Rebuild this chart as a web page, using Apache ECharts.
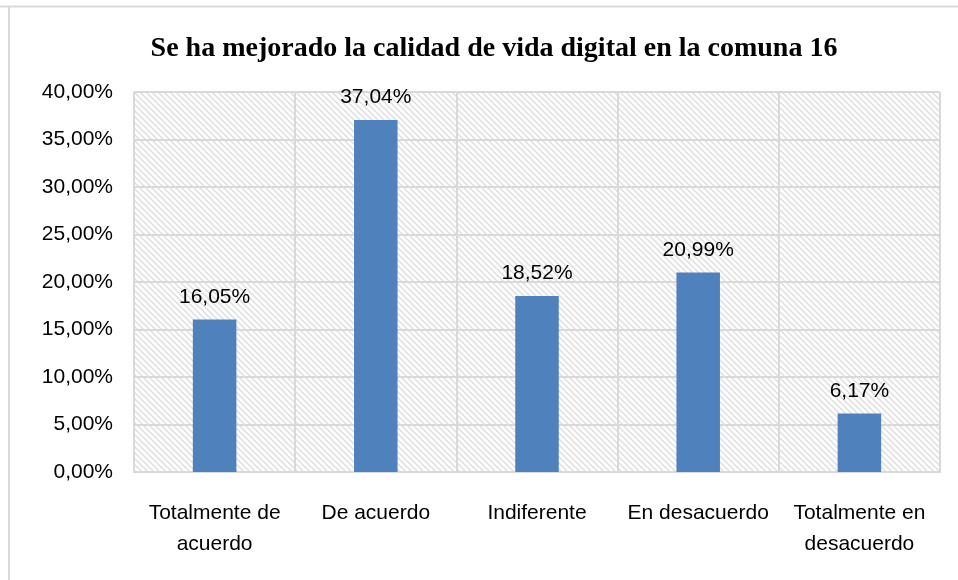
<!DOCTYPE html>
<html>
<head>
<meta charset="utf-8">
<script src="https://cdn.jsdelivr.net/npm/echarts@6/dist/echarts.min.js"></script>
<style>
    html, body { margin: 0; padding: 0; background: #fff; }
    #chart { width: 958px; height: 580px; }
</style>
</head>
<body>
<div id="chart"></div>
<script>
// datos del gráfico
const categories = ['Totalmente de\nacuerdo', 'De acuerdo', 'Indiferente', 'En desacuerdo', 'Totalmente en\ndesacuerdo'];
const values = [16.05, 37.04, 18.52, 20.99, 6.17];
const titleText = 'Se ha mejorado la calidad de vida digital en la comuna 16';

// patrón de rayas diagonales para el fondo del área
const makeHatch = () => {
    const c = document.createElement('canvas');
    c.width = 6;
    c.height = 6;
    const ctx = c.getContext('2d');
    ctx.fillStyle = '#ffffff';
    ctx.fillRect(0, 0, 6, 6);
    ctx.strokeStyle = '#dedede';
    ctx.lineWidth = 1.5;
    ctx.beginPath();
    ctx.moveTo(0, 0); ctx.lineTo(6, 6);
    ctx.moveTo(-3, 3); ctx.lineTo(3, 9);
    ctx.moveTo(3, -3); ctx.lineTo(9, 3);
    ctx.stroke();
    return c;
};

const fmt = (v) => v.toFixed(2).replace('.', ',') + '%';

const mychart = echarts.init(document.getElementById('chart'));
mychart.setOption({
    animation: false,
    title: {
        text: titleText,
        left: 489,
        textAlign: 'center',
        top: 30,
        textStyle: {
            fontFamily: 'Liberation Serif',
            fontWeight: 'bold',
            fontSize: 28,
            color: '#000'
        }
    },
    graphic: [
        { type: 'line', shape: { x1: 0, y1: 6.5, x2: 958, y2: 6.5 }, style: { stroke: '#d9d9d9', lineWidth: 2 } },
        { type: 'line', shape: { x1: 9, y1: 6, x2: 9, y2: 580 }, style: { stroke: '#d9d9d9', lineWidth: 2 } }
    ],
    grid: {
        left: 134,
        right: 18,
        top: 92,
        bottom: 108,
        show: true,
        borderWidth: 0,
        backgroundColor: { image: makeHatch(), repeat: 'repeat' }
    },
    xAxis: {
        type: 'category',
        data: categories,
        axisTick: { show: false },
        axisLine: { lineStyle: { color: '#d9d9d9', width: 2 } },
        splitLine: { show: true, lineStyle: { color: '#d9d9d9', width: 2 } },
        axisLabel: {
            color: '#000',
            fontFamily: 'Liberation Sans',
            fontSize: 21,
            lineHeight: 31,
            margin: 26,
            interval: 0
        }
    },
    yAxis: {
        type: 'value',
        min: 0,
        max: 40,
        interval: 5,
        axisLine: { show: true, lineStyle: { color: '#d9d9d9', width: 2 } },
        axisTick: { show: false },
        splitLine: { lineStyle: { color: '#d9d9d9', width: 2 } },
        axisLabel: {
            color: '#000',
            fontFamily: 'Liberation Sans',
            fontSize: 21,
            margin: 21,
            formatter: (v) => fmt(v)
        }
    },
    series: [
        {
            type: 'bar',
            data: values,
            barWidth: '27%',
            itemStyle: { color: '#4f81bd' },
            label: {
                show: true,
                position: 'top',
                distance: 12,
                color: '#000',
                fontFamily: 'Liberation Sans',
                fontSize: 21,
                formatter: (p) => fmt(p.value)
            }
        }
    ]
});
</script>
</body>
</html>
